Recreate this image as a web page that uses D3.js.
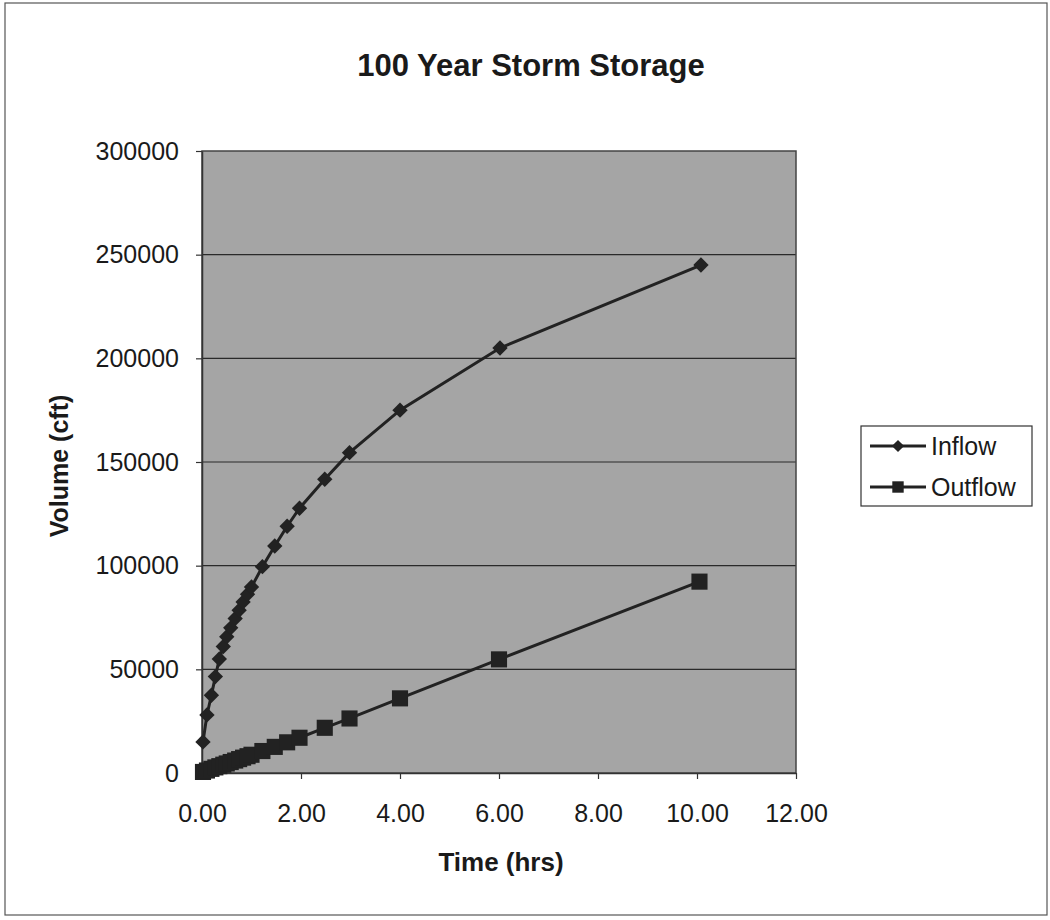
<!DOCTYPE html>
<html>
<head>
<meta charset="utf-8">
<script src="https://cdn.jsdelivr.net/npm/d3@7"></script>
<style>
  body{margin:0;background:#fff;}
  svg{display:block;font-family:"Liberation Sans",Arial,sans-serif;}
</style>
</head>
<body>
<svg id="chart" width="1050" height="920"></svg>
<script>
// data
const inflowTime = [0.02,0.10,0.19,0.27,0.35,0.43,0.50,0.58,0.67,0.75,0.83,0.92,1.00,1.22,1.47,1.72,1.97,2.48,2.98,4.00,6.02,10.08];
const inflowVol  = [15000,28000,37500,46500,55000,61000,65700,70000,74500,78500,82500,86200,89700,99500,109500,119000,127700,141700,154500,175000,205000,245000];
const outflowTime = [0.02,0.10,0.19,0.27,0.35,0.43,0.50,0.58,0.67,0.75,0.83,0.92,1.00,1.22,1.47,1.72,1.97,2.48,2.98,4.00,6.00,10.05];
const outflowVol  = [500,1200,2000,2700,3300,4000,4600,5300,6000,6700,7400,8100,8800,10600,12600,14800,17000,21800,26300,36000,54800,92300];
const xTicks = [0,2,4,6,8,10,12];
const yTicks = [0,50000,100000,150000,200000,250000,300000];

const svg = d3.select("#chart");
const plot = {left:202, top:151, right:796, bottom:773};

// outer frame
svg.append("rect").attr("x",5).attr("y",3).attr("width",1042).attr("height",912)
  .attr("fill","#fff").attr("stroke","#555").attr("stroke-width",1.2);

svg.append("text").attr("x",531).attr("y",76).attr("text-anchor","middle")
  .attr("font-size",31).attr("font-weight","bold").attr("fill","#1a1a1a")
  .text("100 Year Storm Storage");

const x = d3.scaleLinear().domain([0,12]).range([plot.left,plot.right]);
const y = d3.scaleLinear().domain([0,300000]).range([plot.bottom,plot.top]);

svg.append("rect").attr("x",plot.left).attr("y",plot.top)
  .attr("width",plot.right-plot.left).attr("height",plot.bottom-plot.top)
  .attr("fill","#a5a5a5");

// gridlines
svg.append("g").selectAll("line").data(yTicks.slice(1,-1)).enter().append("line")
  .attr("x1",plot.left).attr("x2",plot.right)
  .attr("y1",d=>y(d)).attr("y2",d=>y(d))
  .attr("stroke","#2a2a2a").attr("stroke-width",1.2);

svg.append("rect").attr("x",plot.left).attr("y",plot.top)
  .attr("width",plot.right-plot.left).attr("height",plot.bottom-plot.top)
  .attr("fill","none").attr("stroke","#444").attr("stroke-width",1.5);

// axes
const yAxis = svg.append("g").attr("transform",`translate(${plot.left},0)`)
  .call(d3.axisLeft(y).tickValues(yTicks).tickFormat(d3.format("d")).tickSize(6).tickSizeOuter(0));
const xAxis = svg.append("g").attr("transform",`translate(0,${plot.bottom})`)
  .call(d3.axisBottom(x).tickValues(xTicks).tickFormat(d3.format(".2f")).tickSize(6).tickSizeOuter(0));
[yAxis,xAxis].forEach(a=>{
  a.select(".domain").attr("stroke","#333").attr("stroke-width",1.5);
  a.selectAll(".tick line").attr("stroke","#333").attr("stroke-width",1.2);
  a.selectAll(".tick text").attr("font-size",25).attr("fill","#1a1a1a")
    .attr("font-family","'Liberation Sans',Arial,sans-serif");
});
yAxis.selectAll(".tick text").attr("x",-23);
xAxis.selectAll(".tick text").attr("y",31);

svg.append("text").attr("transform","translate(68,466) rotate(-90)").attr("text-anchor","middle")
  .attr("font-size",25).attr("font-weight","bold").attr("fill","#1a1a1a").text("Volume (cft)");
svg.append("text").attr("x",501).attr("y",871).attr("text-anchor","middle")
  .attr("font-size",26).attr("font-weight","bold").attr("fill","#1a1a1a").text("Time (hrs)");

const inflow = inflowTime.map((t,i)=>({t, v:inflowVol[i]}));
const outflow = outflowTime.map((t,i)=>({t, v:outflowVol[i]}));
const line = d3.line().x(d=>x(d.t)).y(d=>y(d.v));
const ink = "#222";

svg.append("path").datum(inflow).attr("d",line).attr("fill","none").attr("stroke",ink).attr("stroke-width",3);
svg.append("path").datum(outflow).attr("d",line).attr("fill","none").attr("stroke",ink).attr("stroke-width",3);

const diamond = d3.symbol().type(d3.symbolDiamond2).size(150);
const square = d3.symbol().type(d3.symbolSquare).size(260);

svg.append("g").selectAll("path").data(inflow).enter().append("path")
  .attr("d",diamond).attr("transform",d=>`translate(${x(d.t)},${y(d.v)})`).attr("fill",ink);
svg.append("g").selectAll("path").data(outflow).enter().append("path")
  .attr("d",square).attr("transform",d=>`translate(${x(d.t)},${y(d.v)})`).attr("fill",ink);

// legend
const legDiamond = d3.symbol().type(d3.symbolDiamond2).size(95);
const legSquare = d3.symbol().type(d3.symbolSquare).size(130);
const lg = svg.append("g");
lg.append("rect").attr("x",861).attr("y",426).attr("width",171).attr("height",80)
  .attr("fill","#fff").attr("stroke","#333").attr("stroke-width",1.2);
[{name:"Inflow", sym:legDiamond, yy:446},{name:"Outflow", sym:legSquare, yy:487}].forEach(s=>{
  lg.append("line").attr("x1",870).attr("x2",926).attr("y1",s.yy).attr("y2",s.yy)
    .attr("stroke",ink).attr("stroke-width",3);
  lg.append("path").attr("d",s.sym).attr("transform",`translate(898,${s.yy})`).attr("fill",ink);
  lg.append("text").attr("x",931).attr("y",s.yy+9).attr("font-size",25).attr("fill","#1a1a1a").text(s.name);
});
</script>
</body>
</html>
